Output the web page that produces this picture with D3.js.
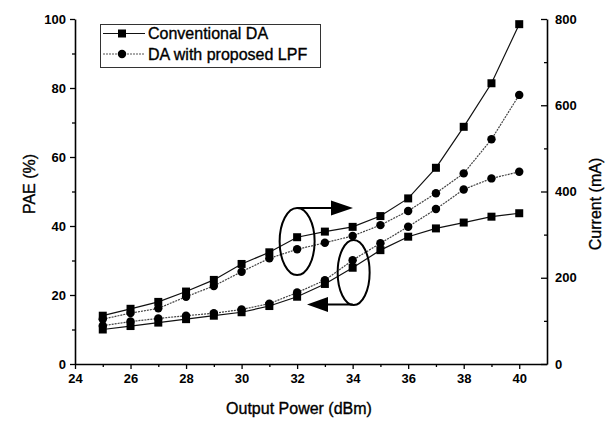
<!DOCTYPE html>
<html><head><meta charset="utf-8">
<script src="https://cdn.jsdelivr.net/npm/d3@7"></script>
<style>
body{margin:0;background:#fff;}
svg{display:block;font-family:"Liberation Sans",Arial,sans-serif;}
.heavy{stroke:#000;stroke-width:0.35px;}
</style></head>
<body>
<svg id="c" width="612" height="421"></svg>
<script>
const power = [25,26,27,28,29,30,31,32,33,34,35,36,37,38,39,40];
const currentConv = [112,128,144,168,195,232,259,294,307,318,343,384,455,550,651,788];
const currentLPF  = [104,118,129,156,181,214,245,266,281,297,322,355,396,442,521,624];
const paeLPF  = [11.1,12.3,13.2,14.0,14.7,15.8,17.5,20.7,24.3,30.1,35.0,39.8,44.9,50.6,53.8,55.7];
const paeConv = [10.0,11.0,12.0,13.0,14.0,15.0,16.8,19.5,23.2,27.9,33.0,36.9,39.3,41.0,42.7,43.7];
const xTicks = [24,26,28,30,32,34,36,38,40];
const leftTicks = [0,20,40,60,80,100];
const rightTicks = [0,200,400,600,800];
const legendLabels = ["Conventional DA","DA with proposed LPF"];

const svg = d3.select("#c");
const L=75, R=547, T=19, B=364;
const x = d3.scaleLinear().domain([24,41]).range([L,R]);
const yL = d3.scaleLinear().domain([0,100]).range([B,T]);
const yR = d3.scaleLinear().domain([0,800]).range([B,T]);

function styleAxis(g){
  g.selectAll(".domain").attr("stroke","#000").attr("stroke-width",1.6);
  g.selectAll(".tick line").attr("stroke","#000").attr("stroke-width",1.3);
  g.selectAll(".tick text").attr("fill","#000").style("font-size","13px").style("font-weight","bold").style("font-family","Liberation Sans, Arial, sans-serif");
}
// minor ticks
const gxm = svg.append("g").attr("transform",`translate(0,${B})`)
  .call(d3.axisBottom(x).tickValues(d3.range(25,41,2)).tickSize(3).tickFormat(""));
styleAxis(gxm); gxm.select(".domain").remove();
const gx = svg.append("g").attr("transform",`translate(0,${B})`)
  .call(d3.axisBottom(x).tickValues(xTicks).tickSize(5).tickSizeOuter(0).tickPadding(5));
styleAxis(gx);
const glm = svg.append("g").attr("transform",`translate(${L},0)`)
  .call(d3.axisLeft(yL).tickValues(d3.range(10,100,20)).tickSize(3).tickFormat(""));
styleAxis(glm); glm.select(".domain").remove();
const gl = svg.append("g").attr("transform",`translate(${L},0)`)
  .call(d3.axisLeft(yL).tickValues(leftTicks).tickSize(5).tickSizeOuter(0).tickPadding(4));
styleAxis(gl);
const grm = svg.append("g").attr("transform",`translate(${R},0)`)
  .call(d3.axisRight(yR).tickValues(d3.range(100,800,200)).tickSize(-3).tickFormat(""));
styleAxis(grm); grm.select(".domain").remove();
const gr = svg.append("g").attr("transform",`translate(${R},0)`)
  .call(d3.axisRight(yR).tickValues(rightTicks).tickSize(-6).tickSizeOuter(0).tickPadding(8));
styleAxis(gr);

// axis titles
svg.append("text").attr("class","heavy").attr("x",(L+R)/2-12).attr("y",414).attr("text-anchor","middle")
  .style("font-size","16px").text("Output Power (dBm)");
svg.append("text").attr("class","heavy").attr("transform",`translate(35,184) rotate(-90)`).attr("text-anchor","middle")
  .style("font-size","16px").text("PAE (%)");
svg.append("text").attr("class","heavy").attr("transform",`translate(601,204) rotate(-90)`).attr("text-anchor","middle")
  .style("font-size","16px").text("Current (mA)");

// series
const series = [
  {vals:currentConv, y:yR, sym:"square", dash:null, col:"#111"},
  {vals:currentLPF,  y:yR, sym:"circle", dash:"2,1", col:"#444"},
  {vals:paeLPF,      y:yL, sym:"circle", dash:"2,1", col:"#444"},
  {vals:paeConv,     y:yL, sym:"square", dash:null, col:"#111"},
];
series.forEach(s=>{
  const line = d3.line().x((d,i)=>x(power[i])).y(d=>s.y(d));
  svg.append("path").datum(s.vals).attr("d",line).attr("fill","none")
    .attr("stroke",s.col).attr("stroke-width",1.2).attr("stroke-dasharray",s.dash);
});
series.forEach(s=>{
  const sym = d3.symbol().type(s.sym==="square"?d3.symbolSquare:d3.symbolCircle).size(s.sym==="square"?64:56);
  svg.append("g").selectAll("path").data(s.vals).join("path")
    .attr("transform",(d,i)=>`translate(${x(power[i])},${s.y(d)})`)
    .attr("d",sym).attr("fill","#000");
});

// legend
const lg = svg.append("g");
lg.append("rect").attr("x",100.5).attr("y",24.5).attr("width",220).attr("height",43)
  .attr("fill","#fff").attr("stroke","#333").attr("stroke-width",1);
[["square",null,"#111",33.5],["circle","2,1","#555",54]].forEach((r,i)=>{
  lg.append("line").attr("x1",103).attr("x2",145).attr("y1",r[3]).attr("y2",r[3])
    .attr("stroke",r[2]).attr("stroke-width",1.1).attr("stroke-dasharray",r[1]);
  lg.append("path").attr("transform",`translate(122,${r[3]})`)
    .attr("d",d3.symbol().type(r[0]==="square"?d3.symbolSquare:d3.symbolCircle).size(r[0]==="square"?64:56)).attr("fill","#000");
  lg.append("text").attr("class","heavy").attr("x",148).attr("y",r[3]+5.5).style("font-size","16px").text(legendLabels[i]);
});

// annotations: ellipses and arrows
const ann = svg.append("g").attr("fill","none").attr("stroke","#000").attr("stroke-width",2);
ann.append("ellipse").attr("cx",x(32)).attr("cy",241.5).attr("rx",17.5).attr("ry",33.5);
ann.append("ellipse").attr("cx",x(34)+1).attr("cy",272.5).attr("rx",16).attr("ry",32.5);
// right arrow
ann.append("line").attr("x1",x(32)).attr("y1",208).attr("x2",333).attr("y2",208);
svg.append("path").attr("d",`M331,200.5 L353,208 L331,215.5 Z`).attr("fill","#000");
// left arrow
ann.append("line").attr("x1",x(34)).attr("y1",304.5).attr("x2",326).attr("y2",304.5);
svg.append("path").attr("d",`M328,297 L307,304.5 L328,312 Z`).attr("fill","#000");
</script>
</body></html>
